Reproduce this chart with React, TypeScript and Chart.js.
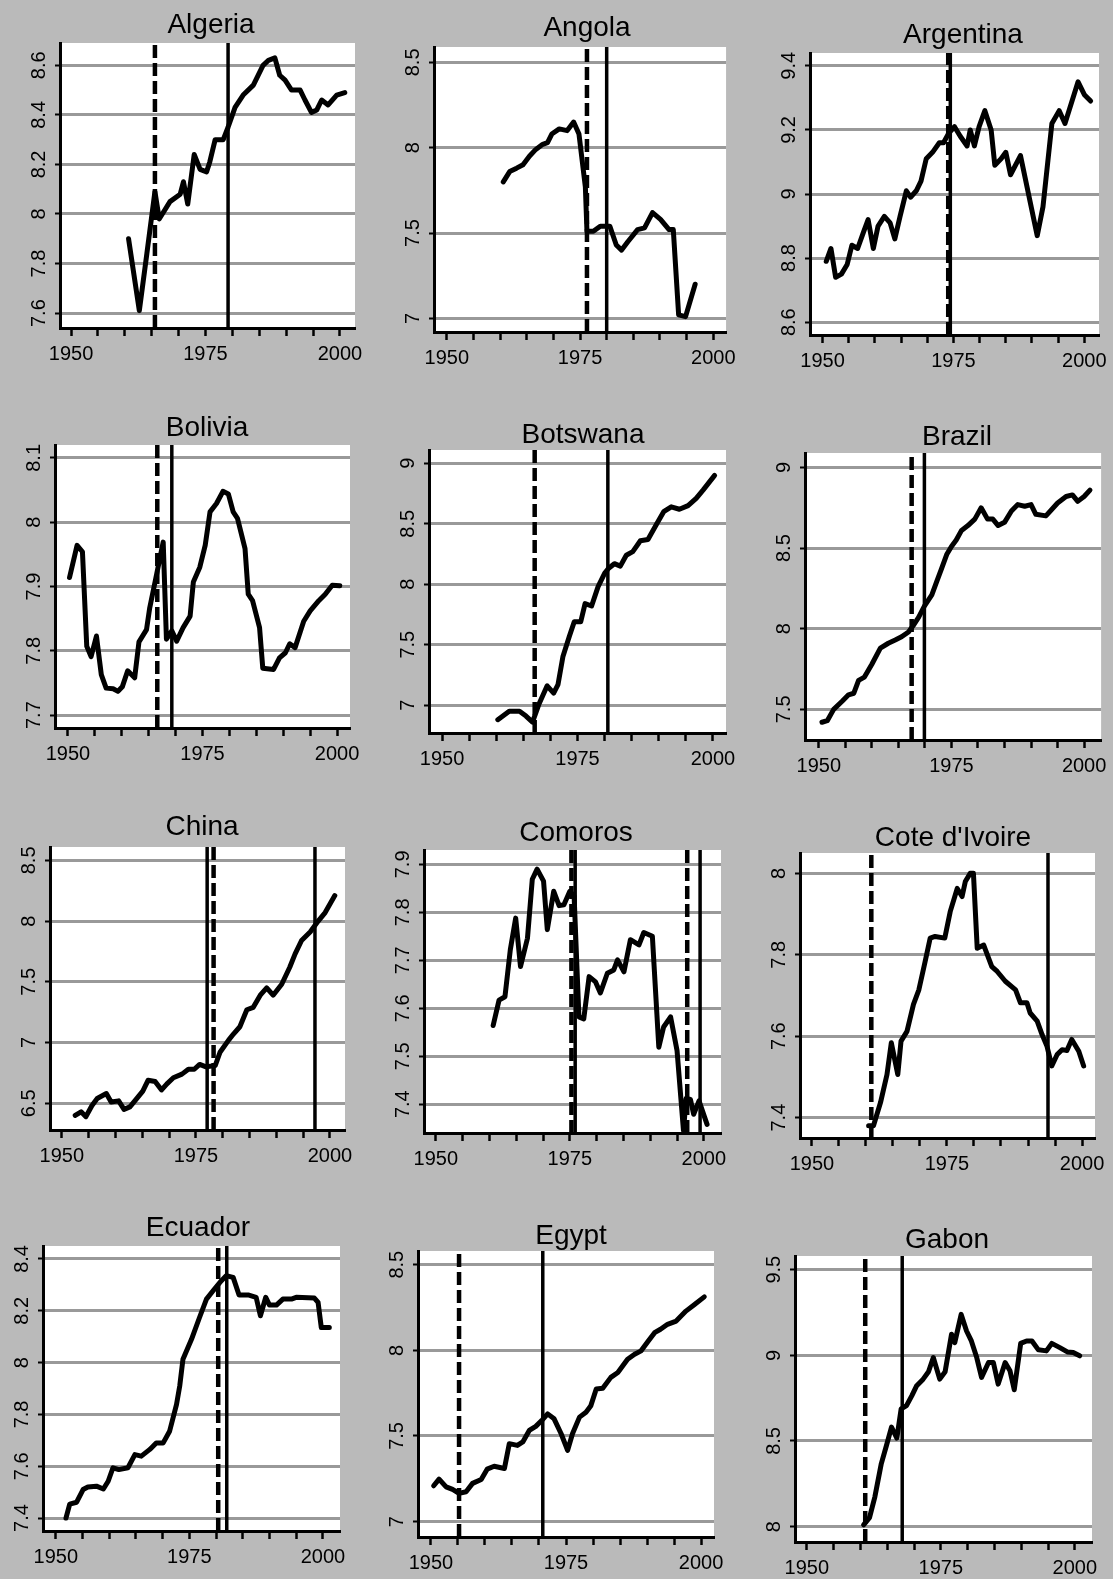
import React, { useEffect, useRef } from "react";
import { Chart, registerables } from "chart.js";

Chart.register(...registerables);

// ---- Series: log GDP per capita by country, with break years ----

const algeriaYears = [1960.7, 1962.7, 1964.1, 1965.6, 1966.4, 1968.4, 1970.3, 1970.9, 1971.7, 1972.9, 1974.0, 1975.2, 1975.8, 1976.8, 1978.3, 1979.2, 1980.5, 1982.0, 1983.9, 1985.7, 1986.7, 1987.9, 1988.8, 1989.8, 1991.0, 1992.6, 1993.5, 1994.7, 1995.7, 1996.6, 1997.8, 1999.4, 2000.9];
const algeriaValues = [7.9, 7.61, 7.84, 8.09, 7.98, 8.05, 8.08, 8.13, 8.04, 8.24, 8.18, 8.17, 8.21, 8.3, 8.3, 8.35, 8.43, 8.48, 8.52, 8.6, 8.62, 8.63, 8.56, 8.54, 8.5, 8.5, 8.46, 8.41, 8.42, 8.46, 8.44, 8.48, 8.49];
const algeriaDashed = [1965.6];
const algeriaSolid = [1979.2];

const angolaYears = [1960.6, 1961.8, 1963.1, 1964.3, 1965.5, 1966.7, 1968.0, 1968.9, 1969.7, 1971.1, 1972.6, 1973.8, 1974.8, 1976.0, 1976.3, 1977.5, 1978.8, 1980.6, 1981.8, 1982.8, 1984.0, 1985.8, 1987.1, 1988.6, 1990.1, 1991.7, 1992.5, 1993.5, 1994.8, 1996.6];
const angolaValues = [7.8, 7.86, 7.88, 7.9, 7.95, 7.99, 8.02, 8.03, 8.08, 8.11, 8.1, 8.15, 8.08, 7.77, 7.51, 7.51, 7.54, 7.54, 7.43, 7.4, 7.45, 7.52, 7.53, 7.62, 7.58, 7.52, 7.52, 7.02, 7.01, 7.2];
const angolaDashed = [1976.3];
const angolaSolid = [1980.0];

const argentinaYears = [1950.7, 1951.6, 1952.5, 1953.6, 1954.7, 1955.6, 1956.7, 1957.8, 1958.7, 1959.7, 1960.6, 1961.8, 1962.9, 1963.8, 1964.8, 1966.0, 1966.8, 1967.9, 1968.8, 1969.8, 1971.0, 1972.3, 1973.1, 1974.1, 1975.2, 1976.3, 1977.6, 1978.2, 1979.0, 1979.9, 1981.0, 1982.2, 1982.9, 1984.1, 1985.0, 1985.9, 1987.8, 1991.0, 1992.1, 1993.8, 1995.2, 1996.3, 1998.8, 2000.0, 2001.2];
const argentinaValues = [8.79, 8.83, 8.74, 8.75, 8.78, 8.84, 8.83, 8.88, 8.92, 8.83, 8.9, 8.93, 8.91, 8.86, 8.93, 9.01, 8.99, 9.01, 9.04, 9.11, 9.13, 9.16, 9.16, 9.19, 9.21, 9.18, 9.15, 9.2, 9.15, 9.21, 9.26, 9.2, 9.09, 9.11, 9.13, 9.06, 9.12, 8.87, 8.96, 9.22, 9.26, 9.22, 9.35, 9.31, 9.29];
const argentinaDashed = [1974.0];
const argentinaSolid = [1974.4];

const boliviaYears = [1950.3, 1951.7, 1952.7, 1953.5, 1954.3, 1955.3, 1956.2, 1957.1, 1958.4, 1959.3, 1960.1, 1961.1, 1962.4, 1963.2, 1964.6, 1965.2, 1966.5, 1967.7, 1968.3, 1969.3, 1970.2, 1971.4, 1972.7, 1973.3, 1974.5, 1975.5, 1976.4, 1977.6, 1978.8, 1979.8, 1980.7, 1981.5, 1982.9, 1983.5, 1984.3, 1985.6, 1986.2, 1988.2, 1989.3, 1990.4, 1991.2, 1992.2, 1993.8, 1995.0, 1996.6, 1997.8, 1999.1, 2000.5];
const boliviaValues = [7.914, 7.964, 7.954, 7.807, 7.791, 7.823, 7.763, 7.742, 7.741, 7.737, 7.744, 7.769, 7.758, 7.814, 7.833, 7.867, 7.92, 7.969, 7.818, 7.831, 7.815, 7.836, 7.854, 7.907, 7.93, 7.964, 8.016, 8.029, 8.048, 8.044, 8.016, 8.006, 7.959, 7.888, 7.878, 7.836, 7.773, 7.771, 7.789, 7.797, 7.811, 7.805, 7.846, 7.862, 7.878, 7.888, 7.902, 7.901];
const boliviaDashed = [1966.6];
const boliviaSolid = [1969.3];

const botswanaYears = [1960.3, 1962.4, 1964.3, 1965.5, 1966.7, 1967.9, 1969.4, 1970.6, 1971.4, 1972.3, 1973.5, 1974.4, 1975.6, 1976.4, 1977.6, 1978.8, 1980.0, 1980.7, 1981.8, 1982.9, 1984.0, 1985.2, 1986.6, 1988.0, 1989.5, 1990.9, 1992.3, 1993.8, 1995.4, 1996.9, 1998.2, 2000.3];
const botswanaValues = [6.88, 6.95, 6.95, 6.91, 6.86, 7.01, 7.16, 7.1, 7.17, 7.4, 7.57, 7.69, 7.69, 7.84, 7.82, 7.98, 8.09, 8.13, 8.17, 8.15, 8.24, 8.27, 8.36, 8.37, 8.49, 8.6, 8.64, 8.62, 8.65, 8.71, 8.78, 8.9];
const botswanaDashed = [1967.1];
const botswanaSolid = [1980.6];

const brazilYears = [1950.6, 1951.6, 1952.8, 1954.4, 1955.6, 1956.6, 1957.5, 1958.6, 1960.0, 1961.6, 1963.1, 1964.4, 1965.6, 1966.9, 1967.8, 1968.8, 1969.9, 1971.3, 1972.2, 1973.1, 1974.1, 1975.0, 1975.9, 1976.9, 1978.1, 1979.4, 1980.6, 1981.8, 1982.8, 1983.8, 1985.0, 1986.3, 1987.5, 1988.8, 1990.0, 1990.9, 1992.8, 1995.0, 1996.6, 1997.8, 1998.8, 2000.0, 2001.1];
const brazilValues = [7.42, 7.43, 7.5, 7.55, 7.59, 7.6, 7.68, 7.7, 7.78, 7.88, 7.91, 7.93, 7.95, 7.98, 8.02, 8.07, 8.14, 8.21, 8.29, 8.37, 8.46, 8.51, 8.55, 8.61, 8.64, 8.68, 8.75, 8.68, 8.68, 8.64, 8.66, 8.73, 8.77, 8.76, 8.77, 8.71, 8.7, 8.78, 8.82, 8.83, 8.79, 8.82, 8.86];
const brazilDashed = [1967.5];
const brazilSolid = [1969.9];

const chinaYears = [1952.5, 1953.6, 1954.5, 1955.6, 1956.6, 1958.3, 1959.2, 1960.6, 1961.6, 1962.7, 1964.0, 1965.1, 1966.1, 1967.4, 1968.6, 1969.6, 1970.8, 1972.4, 1973.6, 1974.7, 1975.7, 1976.9, 1978.6, 1979.5, 1981.1, 1982.0, 1983.2, 1984.5, 1985.7, 1987.0, 1988.2, 1989.4, 1991.0, 1992.5, 1993.5, 1994.7, 1996.3, 1997.8, 1999.1, 2000.9];
const chinaValues = [6.4, 6.43, 6.39, 6.48, 6.54, 6.58, 6.51, 6.52, 6.45, 6.47, 6.54, 6.6, 6.69, 6.68, 6.61, 6.66, 6.71, 6.74, 6.78, 6.78, 6.82, 6.8, 6.81, 6.92, 7.02, 7.07, 7.13, 7.27, 7.29, 7.39, 7.45, 7.39, 7.48, 7.62, 7.73, 7.84, 7.91, 8.0, 8.07, 8.21];
const chinaDashed = [1978.3];
const chinaSolid = [1977.1, 1997.2];

const comorosYears = [1960.7, 1961.8, 1962.9, 1963.9, 1964.9, 1965.8, 1967.1, 1968.0, 1968.9, 1970.1, 1970.8, 1972.0, 1973.0, 1973.9, 1975.0, 1975.8, 1976.7, 1977.6, 1978.6, 1979.8, 1980.7, 1982.0, 1983.2, 1983.9, 1985.1, 1986.3, 1987.9, 1988.8, 1990.4, 1991.6, 1992.5, 1993.8, 1995.0, 1996.2, 1996.7, 1997.5, 1998.1, 1999.1, 2000.6];
const comorosValues = [7.564, 7.617, 7.624, 7.722, 7.788, 7.687, 7.746, 7.869, 7.89, 7.865, 7.764, 7.844, 7.814, 7.816, 7.844, 7.834, 7.582, 7.578, 7.666, 7.655, 7.632, 7.673, 7.68, 7.701, 7.676, 7.743, 7.732, 7.758, 7.75, 7.519, 7.561, 7.582, 7.512, 7.345, 7.412, 7.41, 7.379, 7.407, 7.358];
const comorosDashed = [1975.3, 1996.9];
const comorosSolid = [1976.0, 1999.3];

const coteDIvoireYears = [1960.5, 1961.4, 1962.7, 1963.9, 1964.7, 1965.9, 1966.5, 1967.6, 1968.8, 1969.8, 1970.9, 1971.9, 1972.8, 1974.6, 1975.6, 1976.9, 1977.8, 1978.4, 1979.3, 1979.9, 1980.6, 1981.8, 1983.3, 1984.3, 1985.8, 1987.7, 1988.6, 1989.8, 1990.4, 1991.7, 1992.6, 1993.5, 1994.4, 1995.4, 1996.3, 1997.2, 1998.1, 1999.4, 2000.3];
const coteDIvoireValues = [7.38, 7.38, 7.437, 7.506, 7.584, 7.506, 7.588, 7.612, 7.678, 7.714, 7.78, 7.841, 7.845, 7.841, 7.906, 7.963, 7.943, 7.98, 8.0, 8.0, 7.816, 7.824, 7.771, 7.759, 7.735, 7.714, 7.682, 7.682, 7.657, 7.637, 7.604, 7.576, 7.527, 7.555, 7.567, 7.565, 7.592, 7.563, 7.527];
const coteDIvoireDashed = [1961.0];
const coteDIvoireSolid = [1993.7];

const ecuadorYears = [1951.9, 1952.6, 1953.9, 1955.1, 1956.0, 1957.6, 1958.9, 1959.8, 1960.7, 1961.8, 1963.5, 1964.8, 1966.0, 1967.6, 1968.8, 1970.1, 1971.3, 1972.6, 1973.2, 1973.8, 1975.4, 1976.9, 1978.2, 1979.7, 1981.0, 1981.9, 1983.2, 1984.3, 1986.0, 1987.5, 1988.3, 1989.3, 1990.0, 1991.3, 1992.5, 1994.1, 1995.0, 1998.4, 1999.1, 1999.7, 2001.2];
const ecuadorValues = [7.4, 7.454, 7.461, 7.51, 7.52, 7.523, 7.512, 7.542, 7.594, 7.587, 7.594, 7.645, 7.639, 7.665, 7.69, 7.69, 7.735, 7.839, 7.91, 8.013, 8.09, 8.174, 8.245, 8.284, 8.316, 8.335, 8.329, 8.261, 8.261, 8.252, 8.181, 8.252, 8.222, 8.222, 8.245, 8.245, 8.252, 8.249, 8.232, 8.135, 8.135];
const ecuadorDashed = [1980.4];
const ecuadorSolid = [1982.0];

const egyptYears = [1950.5, 1951.5, 1952.8, 1954.0, 1955.2, 1956.5, 1957.7, 1959.3, 1960.4, 1961.7, 1963.6, 1964.5, 1966.0, 1967.0, 1968.2, 1969.4, 1970.5, 1971.6, 1972.8, 1974.1, 1975.3, 1976.2, 1977.5, 1978.7, 1979.6, 1980.6, 1981.8, 1983.3, 1984.6, 1986.4, 1987.7, 1988.9, 1990.1, 1991.4, 1992.5, 1993.8, 1995.4, 1997.2, 1998.8, 2000.6];
const egyptValues = [7.209, 7.248, 7.203, 7.188, 7.165, 7.174, 7.223, 7.246, 7.306, 7.323, 7.31, 7.455, 7.445, 7.465, 7.532, 7.556, 7.59, 7.629, 7.6, 7.513, 7.416, 7.513, 7.61, 7.639, 7.677, 7.774, 7.778, 7.842, 7.871, 7.948, 7.977, 7.997, 8.049, 8.103, 8.123, 8.152, 8.171, 8.229, 8.268, 8.312];
const egyptDashed = [1955.2];
const egyptSolid = [1970.7];

const gabonYears = [1960.6, 1961.7, 1962.7, 1963.9, 1964.9, 1965.8, 1966.8, 1967.6, 1968.6, 1969.6, 1970.5, 1971.7, 1972.7, 1973.6, 1974.8, 1975.8, 1977.0, 1977.6, 1978.8, 1979.8, 1980.7, 1981.7, 1982.6, 1983.9, 1984.8, 1985.7, 1987.0, 1987.9, 1988.7, 1989.9, 1991.0, 1992.0, 1993.2, 1994.7, 1995.7, 1997.2, 1998.6, 1999.7, 2000.9];
const gabonValues = [8.01, 8.052, 8.174, 8.368, 8.478, 8.581, 8.517, 8.687, 8.706, 8.765, 8.823, 8.861, 8.904, 8.987, 8.861, 8.904, 9.123, 9.074, 9.239, 9.142, 9.084, 8.987, 8.871, 8.958, 8.958, 8.832, 8.958, 8.91, 8.799, 9.07, 9.084, 9.084, 9.032, 9.026, 9.07, 9.045, 9.02, 9.016, 8.997];
const gabonDashed = [1960.9];
const gabonSolid = [1967.8];

// ---- Axis ticks ----
const xTickYears = [1950, 1955, 1960, 1965, 1970, 1975, 1980, 1985, 1990, 1995, 2000];
const xLabelYears = [1950, 1975, 2000];

type Panel = {
  title: string;
  years: number[];
  values: number[];
  dashed: number[];
  solid: number[];
  yTicks: number[];
  xMin: number;
  xMax: number;
  yMin: number;
  yMax: number;
};

const panels: Panel[] = [
  { title: "Algeria", years: algeriaYears, values: algeriaValues, dashed: algeriaDashed, solid: algeriaSolid, yTicks: [7.6, 7.8, 8, 8.2, 8.4, 8.6], xMin: 1947.95, xMax: 2002.8, yMin: 7.54, yMax: 8.69 },
  { title: "Angola", years: angolaYears, values: angolaValues, dashed: angolaDashed, solid: angolaSolid, yTicks: [7, 7.5, 8, 8.5], xMin: 1947.6, xMax: 2002.4, yMin: 6.92, yMax: 8.59 },
  { title: "Argentina", years: argentinaYears, values: argentinaValues, dashed: argentinaDashed, solid: argentinaSolid, yTicks: [8.6, 8.8, 9, 9.2, 9.4], xMin: 1947.6, xMax: 2002.8, yMin: 8.56, yMax: 9.44 },
  { title: "Bolivia", years: boliviaYears, values: boliviaValues, dashed: boliviaDashed, solid: boliviaSolid, yTicks: [7.7, 7.8, 7.9, 8, 8.1], xMin: 1947.6, xMax: 2002.4, yMin: 7.68, yMax: 8.12 },
  { title: "Botswana", years: botswanaYears, values: botswanaValues, dashed: botswanaDashed, solid: botswanaSolid, yTicks: [7, 7.5, 8, 8.5, 9], xMin: 1947.6, xMax: 2002.4, yMin: 6.77, yMax: 9.11 },
  { title: "Brazil", years: brazilYears, values: brazilValues, dashed: brazilDashed, solid: brazilSolid, yTicks: [7.5, 8, 8.5, 9], xMin: 1947.4, xMax: 2003.2, yMin: 7.31, yMax: 9.09 },
  { title: "China", years: chinaYears, values: chinaValues, dashed: chinaDashed, solid: chinaSolid, yTicks: [6.5, 7, 7.5, 8, 8.5], xMin: 1947.8, xMax: 2002.8, yMin: 6.28, yMax: 8.61 },
  { title: "Comoros", years: comorosYears, values: comorosValues, dashed: comorosDashed, solid: comorosSolid, yTicks: [7.4, 7.5, 7.6, 7.7, 7.8, 7.9], xMin: 1947.8, xMax: 2003.2, yMin: 7.34, yMax: 7.93 },
  { title: "Cote d'Ivoire", years: coteDIvoireYears, values: coteDIvoireValues, dashed: coteDIvoireDashed, solid: coteDIvoireSolid, yTicks: [7.4, 7.6, 7.8, 8], xMin: 1947.8, xMax: 2002.4, yMin: 7.35, yMax: 8.05 },
  { title: "Ecuador", years: ecuadorYears, values: ecuadorValues, dashed: ecuadorDashed, solid: ecuadorSolid, yTicks: [7.4, 7.6, 7.8, 8, 8.2, 8.4], xMin: 1947.6, xMax: 2003.2, yMin: 7.35, yMax: 8.45 },
  { title: "Egypt", years: egyptYears, values: egyptValues, dashed: egyptDashed, solid: egyptSolid, yTicks: [7, 7.5, 8, 8.5], xMin: 1947.6, xMax: 2002.4, yMin: 6.91, yMax: 8.58 },
  { title: "Gabon", years: gabonYears, values: gabonValues, dashed: gabonDashed, solid: gabonSolid, yTicks: [8, 8.5, 9, 9.5], xMin: 1947.8, xMax: 2003.2, yMin: 7.91, yMax: 9.58 },
];

// ---- Page layout: each panel's canvas cell, plot box and title anchor (page px) ----
type Frame = {
  x: number; y: number; w: number; h: number;
  left: number; right: number; top: number; bottom: number;
  titleX: number; titleY: number;
};

const frames: Frame[] = [
  { x: 0, y: 0, w: 371, h: 400, left: 60, right: 355, top: 43, bottom: 328, titleX: 211, titleY: 25 },
  { x: 371, y: 0, w: 371, h: 400, left: 434, right: 731, top: 47, bottom: 332, titleX: 587, titleY: 28 },
  { x: 742, y: 0, w: 371, h: 400, left: 810, right: 1105, top: 53, bottom: 335, titleX: 963, titleY: 35 },
  { x: 0, y: 400, w: 371, h: 400, left: 55, right: 350, top: 445, bottom: 728, titleX: 207, titleY: 428 },
  { x: 371, y: 400, w: 371, h: 400, left: 429, right: 726, top: 450, bottom: 733, titleX: 583, titleY: 435 },
  { x: 742, y: 400, w: 371, h: 400, left: 805, right: 1102, top: 453, bottom: 740, titleX: 957, titleY: 437 },
  { x: 0, y: 800, w: 371, h: 399, left: 50, right: 345, top: 847, bottom: 1130, titleX: 202, titleY: 827 },
  { x: 371, y: 800, w: 371, h: 399, left: 424, right: 721, top: 850, bottom: 1133, titleX: 576, titleY: 833 },
  { x: 742, y: 800, w: 371, h: 399, left: 800, right: 1095, top: 853, bottom: 1138, titleX: 953, titleY: 838 },
  { x: 0, y: 1199, w: 371, h: 380, left: 43, right: 340, top: 1246, bottom: 1531, titleX: 198, titleY: 1228 },
  { x: 371, y: 1199, w: 371, h: 380, left: 418, right: 714, top: 1251, bottom: 1537, titleX: 571, titleY: 1236 },
  { x: 742, y: 1199, w: 371, h: 380, left: 795, right: 1092, top: 1256, bottom: 1542, titleX: 947, titleY: 1240 },
];

const FONT_FAMILY = '"Liberation Sans", Arial, Helvetica, sans-serif';
const tickFont = { family: FONT_FAMILY, size: 20 };

function PanelChart({ panel, frame }: { panel: Panel; frame: Frame }) {
  const ref = useRef<HTMLCanvasElement>(null);

  useEffect(() => {
    const canvas = ref.current;
    if (!canvas) return;

    const yAxisWidth = frame.left - frame.x;
    const xAxisHeight = frame.y + frame.h - frame.bottom;

    const plotBackground = {
      id: "plotBackground",
      beforeDraw(chart: any) {
        const { ctx, chartArea: a } = chart;
        ctx.save();
        ctx.fillStyle = "#ffffff";
        ctx.fillRect(a.left, a.top, a.right - a.left, a.bottom - a.top);
        ctx.restore();
      },
    };

    const panelTitle = {
      id: "panelTitle",
      afterDraw(chart: any) {
        const { ctx } = chart;
        ctx.save();
        ctx.font = `28px ${FONT_FAMILY}`;
        ctx.fillStyle = "#000";
        ctx.textAlign = "center";
        ctx.textBaseline = "middle";
        ctx.fillText(panel.title, frame.titleX - frame.x, frame.titleY - frame.y);
        ctx.restore();
      },
    };

    const series = {
      data: panel.years.map((x, i) => ({ x, y: panel.values[i] })),
      borderColor: "#000",
      borderWidth: 5,
      borderJoinStyle: "round" as const,
      borderCapStyle: "round" as const,
      pointRadius: 0,
      tension: 0,
    };
    const breakLine = (year: number, dashed: boolean) => ({
      data: [
        { x: year, y: panel.yMin },
        { x: year, y: panel.yMax },
      ],
      borderColor: "#000",
      borderWidth: dashed ? 4.5 : 3.5,
      borderDash: dashed ? [13, 5] : [],
      pointRadius: 0,
    });

    const chart = new Chart(canvas, {
      type: "line",
      data: {
        datasets: [
          series,
          ...panel.dashed.map((yr) => breakLine(yr, true)),
          ...panel.solid.map((yr) => breakLine(yr, false)),
        ] as any,
      },
      options: {
        responsive: false,
        animation: false,
        devicePixelRatio: 1,
        layout: {
          padding: {
            top: frame.top - frame.y,
            right: frame.x + frame.w - frame.right,
            left: 0,
            bottom: 0,
          },
        },
        plugins: {
          legend: { display: false },
          tooltip: { enabled: false },
          title: { display: false },
        },
        scales: {
          x: {
            type: "linear",
            min: panel.xMin,
            max: panel.xMax,
            afterBuildTicks: (scale: any) => {
              scale.ticks = xTickYears.map((value) => ({ value }));
            },
            afterFit: (scale: any) => {
              scale.height = xAxisHeight;
            },
            ticks: {
              autoSkip: false,
              maxRotation: 0,
              minRotation: 0,
              padding: 6,
              color: "#000",
              font: tickFont,
              callback: (v: any) => (xLabelYears.includes(Number(v)) ? String(v) : ""),
            },
            grid: {
              drawOnChartArea: false,
              drawTicks: true,
              tickLength: 8,
              tickColor: "#000",
              tickWidth: 2.5,
            },
            border: { display: true, color: "#000", width: 3 },
          },
          y: {
            type: "linear",
            min: panel.yMin,
            max: panel.yMax,
            afterBuildTicks: (scale: any) => {
              scale.ticks = panel.yTicks.map((value) => ({ value }));
            },
            afterFit: (scale: any) => {
              scale.width = yAxisWidth;
            },
            ticks: {
              minRotation: 90,
              maxRotation: 90,
              crossAlign: "center",
              padding: 2,
              color: "#000",
              font: tickFont,
              callback: (v: any) => String(v),
            },
            grid: {
              color: "#999999",
              lineWidth: 3,
              drawTicks: true,
              tickLength: 5,
              tickColor: "#000",
              tickWidth: 2,
            },
            border: { display: true, color: "#000", width: 3 },
          },
        },
      } as any,
      plugins: [plotBackground, panelTitle],
    });

    return () => chart.destroy();
  }, [panel, frame]);

  return (
    <canvas
      ref={ref}
      width={frame.w}
      height={frame.h}
      style={{ position: "absolute", left: frame.x, top: frame.y, width: frame.w, height: frame.h }}
    />
  );
}

export default function App() {
  return (
    <div
      style={{
        position: "absolute",
        left: 0,
        top: 0,
        width: 1113,
        height: 1579,
        background: "#bababa",
        overflow: "hidden",
      }}
    >
      {panels.map((p, i) => (
        <PanelChart key={p.title} panel={p} frame={frames[i]} />
      ))}
    </div>
  );
}
